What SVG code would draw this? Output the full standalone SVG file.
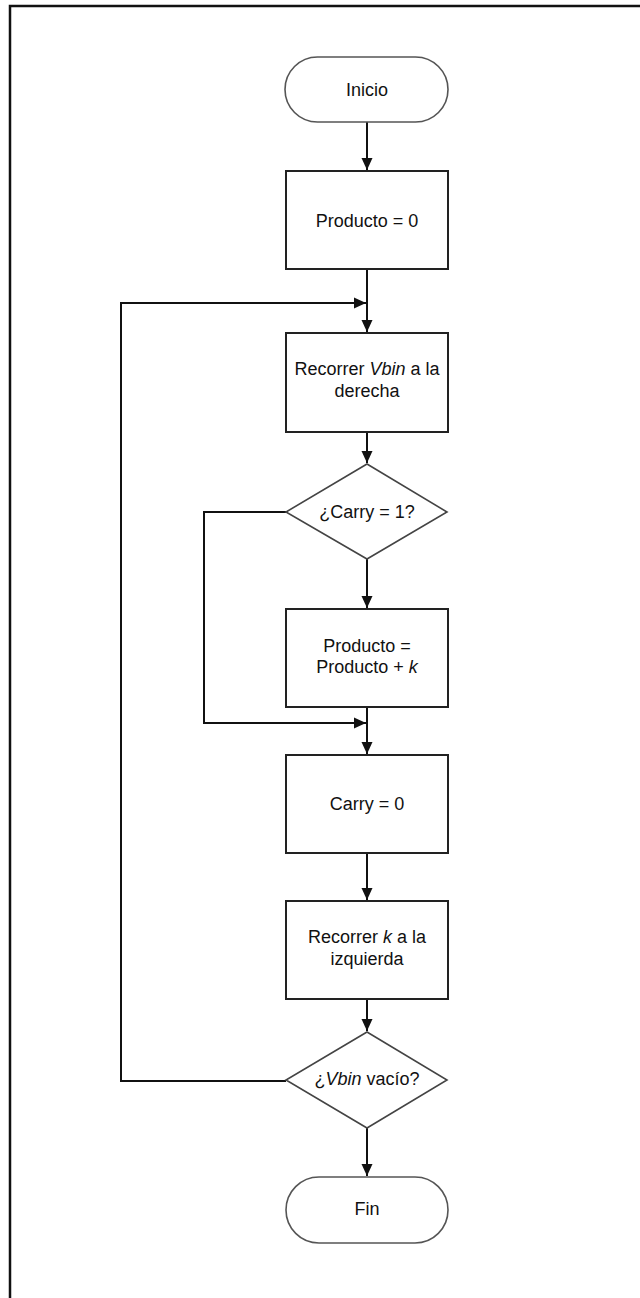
<svg xmlns="http://www.w3.org/2000/svg" width="640" height="1298" viewBox="0 0 640 1298">
<style>
.box{fill:#fff;stroke:#222;stroke-width:2}
.dia{fill:#fff;stroke:#444;stroke-width:1.6}
.term{fill:#fff;stroke:#555;stroke-width:1.6}
.t{font-family:"Liberation Sans",Arial,sans-serif;font-size:18px;fill:#111;text-anchor:middle}
.c{fill:none;stroke:#111;stroke-width:2}
</style>
<defs>
<marker id="ah" markerUnits="userSpaceOnUse" markerWidth="13" markerHeight="13" viewBox="0 0 13 13" refX="12" refY="6.5" orient="auto">
<path d="M0,1 L12,6.5 L0,12 Z" fill="#111"/>
</marker>
</defs>
<rect width="640" height="1298" fill="#fff"/>
<path d="M10,1298 L10,6 L640,6" fill="none" stroke="#111" stroke-width="2.5"/>
<g id="connectors">
<path class="c" d="M367,122 L367,170" marker-end="url(#ah)"/>
<path class="c" d="M367,269 L367,332" marker-end="url(#ah)"/>
<path class="c" d="M367,432 L367,463" marker-end="url(#ah)"/>
<path class="c" d="M367,559 L367,608" marker-end="url(#ah)"/>
<path class="c" d="M286,512 L204,512 L204,723 L366,723" marker-end="url(#ah)"/>
<path class="c" d="M367,707 L367,754" marker-end="url(#ah)"/>
<path class="c" d="M367,853 L367,900" marker-end="url(#ah)"/>
<path class="c" d="M367,999 L367,1031" marker-end="url(#ah)"/>
<path class="c" d="M286,1081 L121,1081 L121,303 L366,303" marker-end="url(#ah)"/>
<path class="c" d="M367,1128 L367,1176" marker-end="url(#ah)"/>
</g>
<g id="inicio">
<rect class="term" x="285" y="57" width="163" height="65" rx="32.5" ry="32.5"/>
<text class="t" x="367" y="96">Inicio</text>
</g>
<g id="producto0">
<rect class="box" x="286" y="171" width="162" height="98"/>
<text class="t" x="367" y="227">Producto = 0</text>
</g>
<g id="recorrerVbin">
<rect class="box" x="286" y="333" width="162" height="99"/>
<text class="t" x="367" y="375">Recorrer <tspan font-style="italic">Vbin</tspan> a la</text>
<text class="t" x="367" y="397">derecha</text>
</g>
<g id="carry1">
<polygon class="dia" points="367,464 447,512 367,559 286,512"/>
<text class="t" x="367" y="518">¿Carry = 1?</text>
</g>
<g id="sumar">
<rect class="box" x="286" y="609" width="162" height="98"/>
<text class="t" x="367" y="652">Producto =</text>
<text class="t" x="367" y="673">Producto + <tspan font-style="italic">k</tspan></text>
</g>
<g id="carry0">
<rect class="box" x="286" y="755" width="162" height="98"/>
<text class="t" x="367" y="810">Carry = 0</text>
</g>
<g id="recorrerK">
<rect class="box" x="286" y="901" width="162" height="98"/>
<text class="t" x="367" y="943">Recorrer <tspan font-style="italic">k</tspan> a la</text>
<text class="t" x="367" y="965">izquierda</text>
</g>
<g id="vbinVacio">
<polygon class="dia" points="367,1032 447,1080 367,1128 286,1080"/>
<text class="t" x="367" y="1085">¿<tspan font-style="italic">Vbin</tspan> vacío?</text>
</g>
<g id="fin">
<rect class="term" x="286" y="1177" width="162" height="66" rx="33" ry="33"/>
<text class="t" x="367" y="1215">Fin</text>
</g>
</svg>
